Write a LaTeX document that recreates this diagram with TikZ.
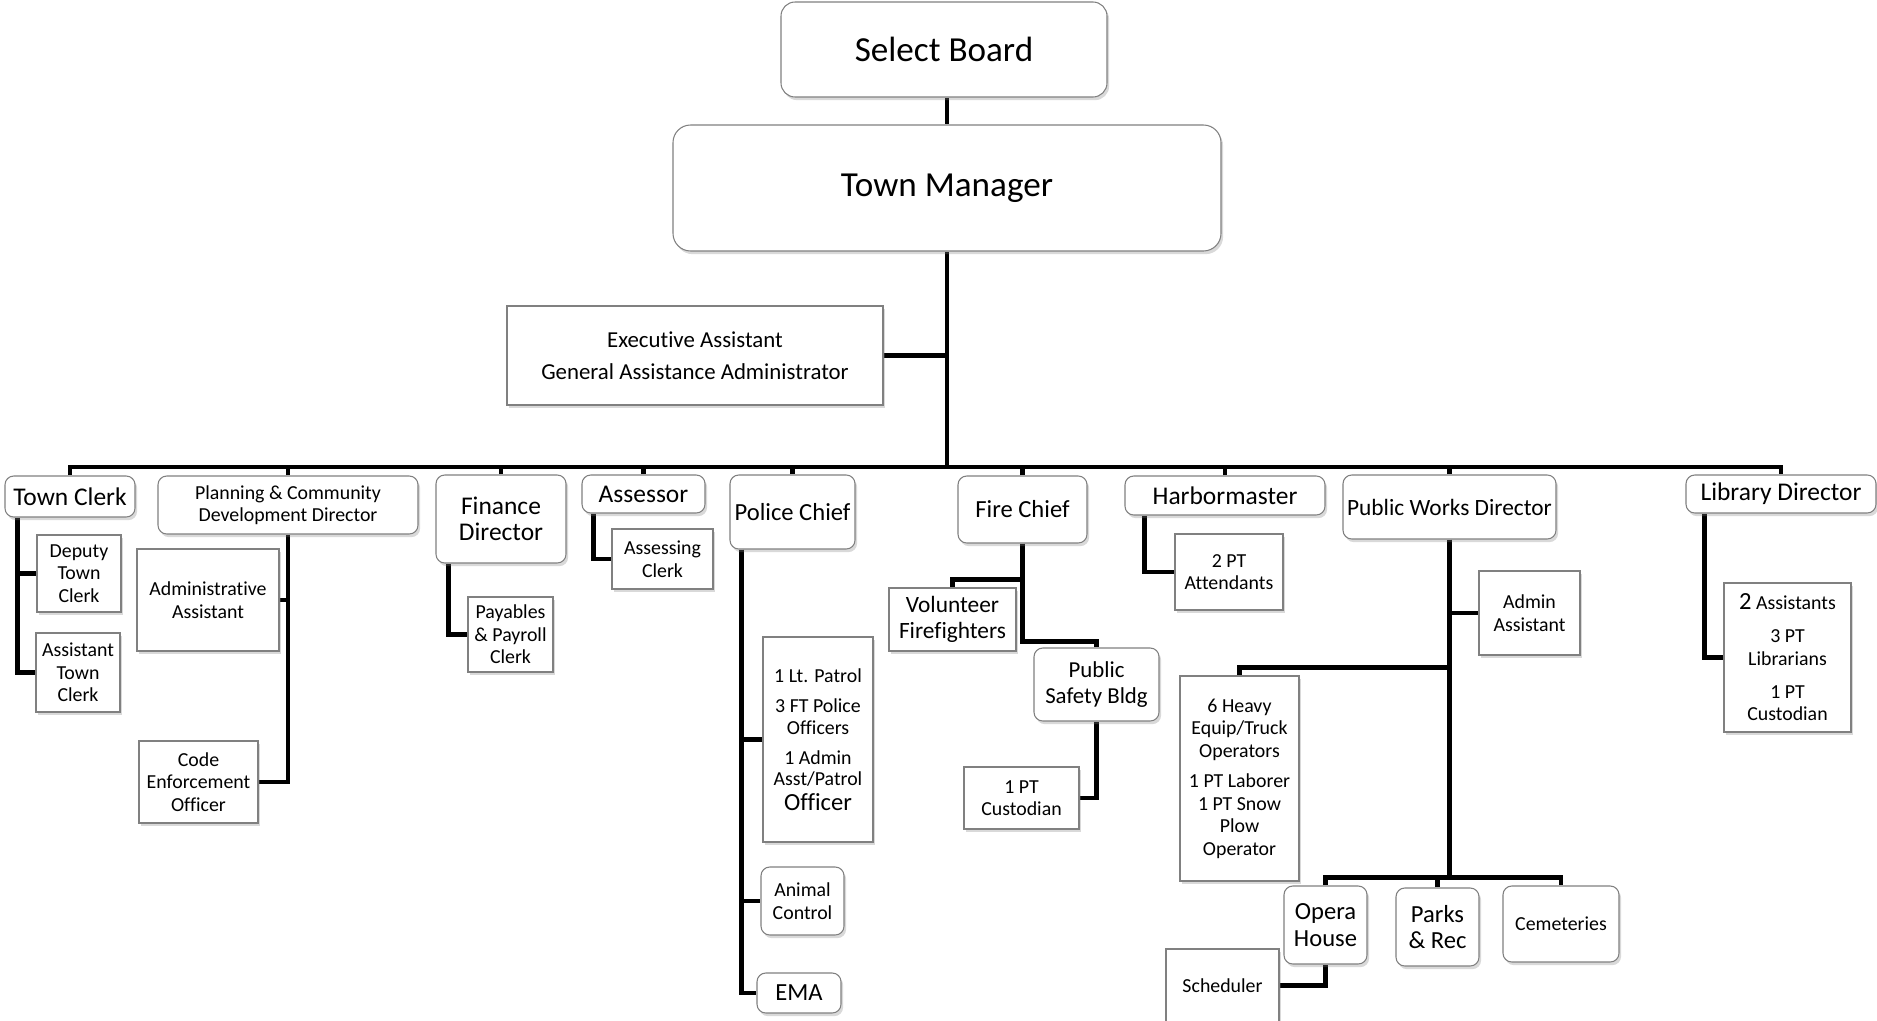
\documentclass[tikz,border=0pt]{standalone}
\usepackage{fontspec}
\setmainfont{Carlito}[Ligatures=CommonOff]
\usetikzlibrary{shadows,calc,backgrounds}

\tikzset{
  box/.style={draw=black!50, line width=0.6pt, fill=white, inner sep=0pt, align=center,
    drop shadow={shadow xshift=1.2pt, shadow yshift=-1.8pt, opacity=0.3}},
  rbox/.style={box, rounded corners=5pt},
  sz/.style 2 args={minimum width=#1*0.02cm, minimum height=#2*0.02cm},
  big/.style={font=\fontsize{20}{24}\selectfont},
  head/.style={font=\fontsize{14.5}{15}\selectfont},
  chief/.style={font=\fontsize{14}{15}\selectfont},
  mid/.style={font=\fontsize{13.3}{14.5}\selectfont},
  sm/.style={font=\fontsize{11.3}{12.8}\selectfont},
  link/.style={line width=2.7pt}
}

\begin{document}
\begin{tikzpicture}[x=0.02cm, y=-0.02cm]
  \useasboundingbox (0,0) rectangle (1877,1021);

  % top of the chart
  \node[rbox, rounded corners=8pt, sz={326}{95}, big] (sb) at (944,49.5) {Select Board};
  \node[rbox, rounded corners=10pt, sz={548}{126}, big] (tm) at (947,188) {Town Manager};
  \node[box, sz={376}{99}, font=\fontsize{13}{14}\selectfont] (exec) at (695,355.5)
    {Executive Assistant\\[4pt]General Assistance Administrator};

  % department heads
  \node[rbox, sz={130}{41}, head] (tc) at (70,496.5) {Town Clerk};
  \node[rbox, sz={260}{58}, sm] (pcd) at (288,505) {Planning \& Community\\Development Director};
  \node[rbox, sz={130}{88}, head] (fin) at (501,519) {Finance\\Director};
  \node[rbox, sz={123}{38}, head] (ass) at (643.5,494) {Assessor};
  \node[rbox, sz={125}{74}, chief] (pol) at (792.5,512) {Police Chief};
  \node[rbox, sz={129}{67}, chief] (fire) at (1022.5,509.5) {Fire Chief};
  \node[rbox, sz={200}{39}, head] (harb) at (1225,495.5) {Harbormaster};
  \node[rbox, sz={213}{64}, mid] (pw) at (1449.5,507) {Public Works Director};
  \node[rbox, sz={190}{38}, head] (lib) at (1781,494) {Library Director};

  % staff
  \node[box, sz={84}{77}, sm] (dtc) at (79,573.5) {Deputy\\Town\\Clerk};
  \node[box, sz={84}{79}, sm] (atc) at (78,672.5) {Assistant\\Town\\Clerk};
  \node[box, sz={142}{102}, sm] (aa) at (208,600) {Administrative\\Assistant};
  \node[box, sz={119}{82}, sm] (ceo) at (198.5,782) {Code\\Enforcement\\Officer};
  \node[box, sz={85}{75}, sm] (pay) at (510.5,634.5) {Payables\\\& Payroll\\Clerk};
  \node[box, sz={101}{60}, sm] (acl) at (662.5,559) {Assessing\\Clerk};
  \node[box, sz={110}{205}, font=\fontsize{11.3}{12}\selectfont] (pat) at (818,739.5)
    {1 Lt. Patrol\\[5.5pt]3 FT Police\\Officers\\[5.5pt]1 Admin\\Asst/Patrol\\[2pt]{\fontsize{14}{15}\selectfont Officer}};
  \node[rbox, sz={83}{68}, sm] (anc) at (802.5,901) {Animal\\Control};
  \node[rbox, sz={84}{40}, chief] (ema) at (799,993) {EMA};
  \node[box, sz={127}{63}, mid] (vol) at (952.5,619.5) {Volunteer\\Firefighters};
  \node[rbox, sz={125}{73}, font=\fontsize{13}{14.5}\selectfont] (psb) at (1096.5,684.5) {Public\\Safety Bldg};
  \node[box, sz={115}{62}, sm] (cus) at (1021.5,798) {1 PT\\Custodian};
  \node[box, sz={108}{76}, sm] (att) at (1229,572) {2 PT\\Attendants};
  \node[box, sz={101}{84}, sm] (adm) at (1529.5,613) {Admin\\Assistant};
  \node[box, sz={119}{205}, sm] (ops) at (1239.5,778.5)
    {6 Heavy\\Equip/Truck\\Operators\\[4.5pt]1 PT Laborer\\1 PT Snow\\Plow\\Operator};
  \node[rbox, sz={83}{78}, chief] (opera) at (1325.5,925) {Opera\\House};
  \node[rbox, sz={83}{78}, chief] (parks) at (1437.5,927) {Parks\\\& Rec};
  \node[rbox, sz={116}{76}, sm] (cem) at (1561,924) {Cemeteries};
  \node[box, sz={113}{73}, sm] (sch) at (1222.5,985.5) {Scheduler};
  \node[box, sz={127}{149}, sm] (lbs) at (1787.5,657.5)
    {{\fontsize{14}{15}\selectfont 2} Assistants\\[6pt]3 PT\\Librarians\\[6pt]1 PT\\Custodian};

  \coordinate (bus) at (947,467);

  % connectors
  \begin{pgfonlayer}{background}
  \begin{scope}[link]
    \draw (tm.north |- sb.south) -- (tm.north);
    \draw (tm.south) -- (bus);
    \draw (exec.east) -- (exec.east -| tm.south);
    \draw (tc.north) |- (bus) -| (lib.north);
    \foreach \n in {pcd,fin,ass,pol,fire,harb,pw}
      \draw (\n.north) -- (\n.north |- bus);

    \draw ($(tc.south west)+(13,0)$) |- (dtc.west);
    \draw ($(tc.south west)+(13,0)$) |- (atc.west);
    \draw (pcd.south) |- (aa.east);
    \draw (pcd.south) |- (ceo.east);
    \draw ($(fin.south west)+(13,0)$) |- (pay.west);
    \draw ($(ass.south west)+(12,0)$) |- (acl.west);
    \foreach \n in {pat,anc,ema}
      \draw ($(pol.south west)+(12,0)$) |- (\n.west);
    \draw (fire.south) -- ++(0,36) -| (vol.north);
    \draw (fire.south) -- ++(0,98) -| (psb.north);
    \draw (psb.south) |- (cus.east);
    \draw ($(harb.south west)+(20,0)$) |- (att.west);
    \draw (pw.south) |- (adm.west);
    \draw (pw.south) -- ++(0,128) -| (ops.north);
    \draw (pw.south) -- ++(0,338) coordinate (pwbus);
    \draw (opera.north) |- (pwbus) -| (cem.north);
    \draw (parks.north) -- (parks.north |- pwbus);
    \draw (opera.south) |- (sch.east);
    \draw ($(lib.south west)+(19,0)$) |- (lbs.west);
  \end{scope}
  \end{pgfonlayer}
\end{tikzpicture}
\end{document}
